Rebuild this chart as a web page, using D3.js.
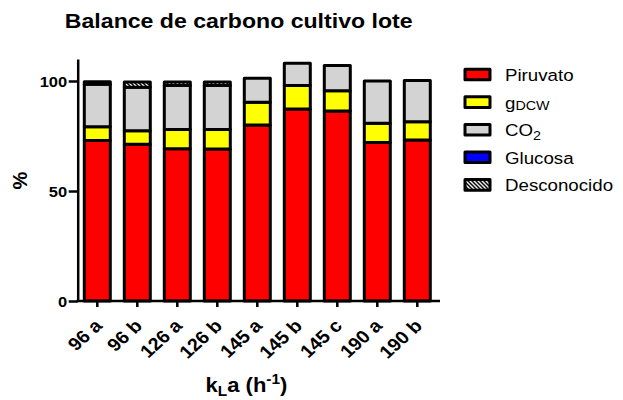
<!DOCTYPE html>
<html>
<head>
<meta charset="utf-8">
<script src="https://cdn.jsdelivr.net/npm/d3@7"></script>
<style>
  html, body { margin: 0; padding: 0; background: #ffffff; }
  svg { display: block; font-family: "Liberation Sans", Arial, sans-serif; }
</style>
</head>
<body>
<svg id="chart" width="623" height="400"></svg>
<script>
// Carbon balance per batch run (% of carbon fed)
const categories  = ["96 a", "96 b", "126 a", "126 b", "145 a", "145 b", "145 c", "190 a", "190 b"];
const piruvato    = [73.0, 71.2, 69.2, 69.1, 80.0, 87.3, 86.4, 72.0, 73.2];
const gDCW        = [6.2, 6.2, 8.8, 8.9, 10.3, 10.6, 9.2, 8.8, 8.3];
const co2         = [19.3, 19.8, 20.0, 20.0, 11.0, 10.2, 11.4, 19.2, 18.7];
const glucosa     = [1.2, 0, 0, 0, 0, 0, 0, 0, 0];
const desconocido = [0, 2.4, 1.6, 1.6, 0, 0, 0, 0, 0];
const yTicks      = [0, 50, 100];
const seriesKeys  = ["Piruvato", "gDCW", "CO2", "Glucosa", "Desconocido"];

const rows = categories.map((c, i) => ({
  cat: c,
  Piruvato: piruvato[i],
  gDCW: gDCW[i],
  CO2: co2[i],
  Glucosa: glucosa[i],
  Desconocido: desconocido[i]
}));

const fills = {
  Piruvato: "#ff0000",
  gDCW: "#ffff00",
  CO2: "#d3d3d3",
  Glucosa: "#0000ff",
  Desconocido: "url(#hatch)"
};

const SX = 1.1; // horizontal text stretch
const svg = d3.select("#chart");

// diagonal hatch for the unknown fraction
const defs = svg.append("defs");
const pat = defs.append("pattern")
  .attr("id", "hatch")
  .attr("patternUnits", "userSpaceOnUse")
  .attr("width", 4).attr("height", 4);
pat.append("rect").attr("width", 4).attr("height", 4).attr("fill", "#fff");
pat.append("path")
  .attr("d", "M-1,-1L5,5M-1,3L1,5M3,-1L5,1")
  .attr("stroke", "#000").attr("stroke-width", 1.5);

const x = d3.scaleBand()
  .domain(categories)
  .range([77.3, 437.3])
  .paddingInner(0.35)
  .paddingOuter(0.175);

const y = d3.scaleLinear().domain([0, 110]).range([301, 59]);

const stacked = d3.stack().keys(seriesKeys)(rows);

// bars
const layers = svg.append("g").selectAll("g")
  .data(stacked)
  .join("g")
  .attr("fill", d => fills[d.key]);

layers.selectAll("rect")
  .data(d => d.filter(s => s[1] - s[0] > 0))
  .join("rect")
  .attr("x", d => x(d.data.cat))
  .attr("width", x.bandwidth())
  .attr("y", d => y(d[1]))
  .attr("height", d => y(d[0]) - y(d[1]))
  .attr("stroke", "#000")
  .attr("stroke-width", 3)
  .attr("stroke-linejoin", "round");

// y axis
const yAxis = svg.append("g")
  .attr("transform", "translate(77.7,0)")
  .call(d3.axisLeft(y).tickValues(yTicks).tickSizeInner(9).tickSizeOuter(0).tickPadding(0));
yAxis.select(".domain").attr("stroke-width", 2.5);
yAxis.selectAll(".tick line").attr("stroke-width", 2.5);
yAxis.selectAll(".tick text")
  .attr("x", null)
  .attr("dy", "0.36em")
  .attr("transform", `translate(-10.5,0) scale(${SX},1)`)
  .attr("font-size", 15)
  .attr("font-weight", "bold")
  .attr("font-family", "Liberation Sans, Arial, sans-serif")
  .attr("fill", "#000");

// x axis
const xAxis = svg.append("g")
  .attr("transform", `translate(0,${y(0)})`)
  .call(d3.axisBottom(x).tickSizeInner(6).tickSizeOuter(0).tickPadding(0));
xAxis.select(".domain").attr("d", "M76.5,0H440").attr("stroke-width", 2.5);
xAxis.selectAll(".tick line").attr("stroke-width", 2.5);
xAxis.selectAll(".tick text")
  .attr("y", null)
  .attr("dy", null)
  .attr("text-anchor", "end")
  .attr("transform", `translate(6,26) scale(${SX},1) rotate(-45)`)
  .attr("font-size", 18)
  .attr("font-weight", "bold")
  .attr("font-family", "Liberation Sans, Arial, sans-serif")
  .attr("fill", "#000");

// title
svg.append("text")
  .attr("transform", `translate(238.7,28) scale(${SX},1)`)
  .attr("text-anchor", "middle")
  .attr("font-size", 21)
  .attr("font-weight", "bold")
  .text("Balance de carbono cultivo lote");

// y title
svg.append("text")
  .attr("transform", "translate(27,180.5) rotate(-90)")
  .attr("text-anchor", "middle")
  .attr("font-size", 20)
  .attr("font-weight", "bold")
  .text("%");

// x title: k_L a (h^-1)
const xt = svg.append("text")
  .attr("transform", `translate(246.5,392) scale(${SX},1)`)
  .attr("text-anchor", "middle")
  .attr("font-size", 20)
  .attr("font-weight", "bold");
xt.append("tspan").text("k");
xt.append("tspan").attr("font-size", 14).attr("dy", 4).text("L");
xt.append("tspan").attr("dy", -4).text("a (h");
xt.append("tspan").attr("font-size", 14).attr("dy", -8).text("-1");
xt.append("tspan").attr("dy", 8).text(")");

// legend
const legendRowY = d3.scalePoint().domain(seriesKeys).range([74.5, 184.9]);
const legend = svg.append("g");
const items = legend.selectAll("g")
  .data(seriesKeys)
  .join("g")
  .attr("transform", d => `translate(0,${legendRowY(d)})`);

items.append("rect")
  .attr("x", 465).attr("y", -5.3)
  .attr("width", 25).attr("height", 10.6)
  .attr("fill", d => fills[d])
  .attr("stroke", "#000")
  .attr("stroke-width", 3)
  .attr("stroke-linejoin", "round");

items.each(function(d) {
  const t = d3.select(this).append("text")
    .attr("transform", `translate(505,6.5) scale(${SX},1)`)
    .attr("font-size", 17);
  if (d === "gDCW") {
    t.append("tspan").text("g");
    t.append("tspan").attr("font-size", 13).attr("dy", 1.5).text("DCW");
  } else if (d === "CO2") {
    t.append("tspan").text("CO");
    t.append("tspan").attr("font-size", 13).attr("dy", 4).text("2");
  } else {
    t.text(d);
  }
});
</script>
</body>
</html>
